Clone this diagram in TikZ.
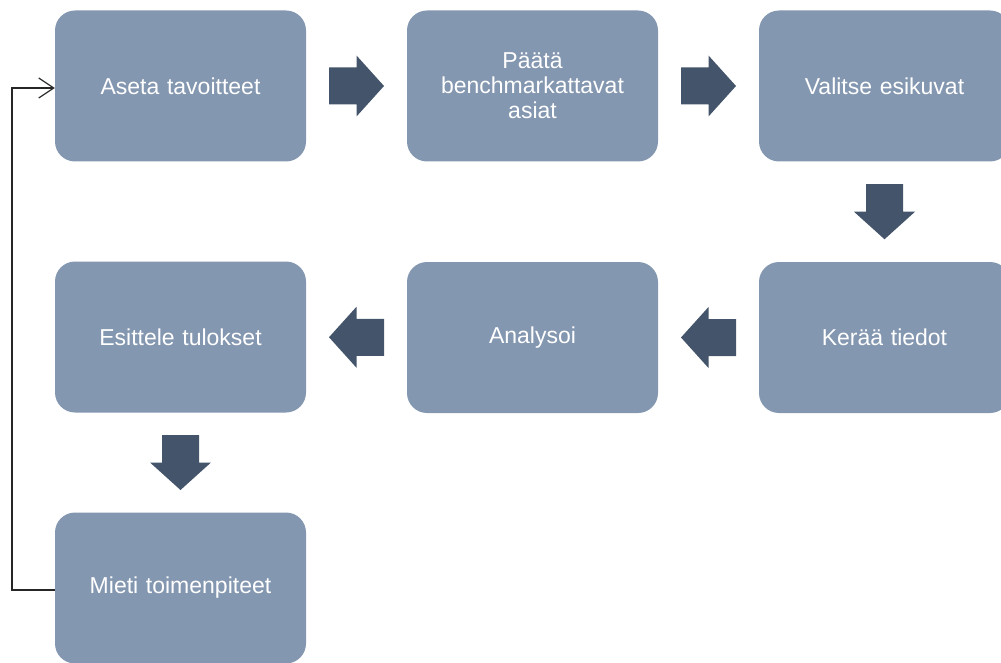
\documentclass[tikz,border=0pt]{standalone}
\usepackage{fontspec}
\setmainfont{Liberation Sans}
\usetikzlibrary{calc,arrows.meta}
\definecolor{boxfill}{HTML}{8497B0}
\definecolor{arrfill}{HTML}{44546A}
\definecolor{linecol}{HTML}{262626}
\tikzset{
  stepbox/.style={rectangle, rounded corners=20pt, fill=boxfill, draw=none,
    minimum width=251pt, minimum height=151pt, text=white, align=center,
    font=\fontsize{23pt}{25pt}\selectfont, text width=230pt, inner sep=0pt},
  blockarrow/.pic={
    \fill[arrfill] (-27.5,-18.5) -- (0,-18.5) -- (0,-30.5) -- (27.5,0)
      -- (0,30.5) -- (0,18.5) -- (-27.5,18.5) -- cycle;
  },
  feedback/.style={draw=linecol, line width=1.2pt,
    -{Straight Barb[length=15pt,width=20pt,line width=1.2pt]}}
}
\begin{document}
\begin{tikzpicture}[x=1pt,y=1pt]
\useasboundingbox (0,0) rectangle (1001,-663);
\node[stepbox] (a) at (180.5,-86) {Aseta tavoitteet};
\node[stepbox] (b) at (532.5,-86) {Päätä\\benchmarkattavat\\asiat};
\node[stepbox] (c) at (884.5,-86) {Valitse esikuvat};
\node[stepbox] (d) at (884.5,-337.5) {Kerää tiedot};
\node[stepbox] (e) at (532.5,-337.5) {Analysoi};
\node[stepbox] (f) at (180.5,-337) {Esittele tulokset};
\node[stepbox] (g) at (180.5,-588) {Mieti toimenpiteet};
\coordinate (m1) at ($(a.east)!0.5!(b.west)$);
\coordinate (m2) at ($(b.east)!0.5!(c.west)$);
\coordinate (m3) at ($(c.south)!0.5!(d.north)$);
\coordinate (m4) at ($(d.west)!0.5!(e.east)$);
\coordinate (m5) at ($(e.west)!0.5!(f.east)$);
\coordinate (m6) at ($(f.south)!0.5!(g.north)$);
\pic at (m1) {blockarrow};
\pic at (m2) {blockarrow};
\pic[rotate=-90] at (m3) {blockarrow};
\pic[rotate=180] at (m4) {blockarrow};
\pic[rotate=180] at (m5) {blockarrow};
\pic[rotate=-90] at (m6) {blockarrow};
\coordinate (lb) at (12,-590);
\coordinate (lt) at (12,-88);
\draw[feedback] ([yshift=-2pt]g.west) -- (lb) -- (lt) -- ([yshift=-2pt]a.west);
\end{tikzpicture}
\end{document}
